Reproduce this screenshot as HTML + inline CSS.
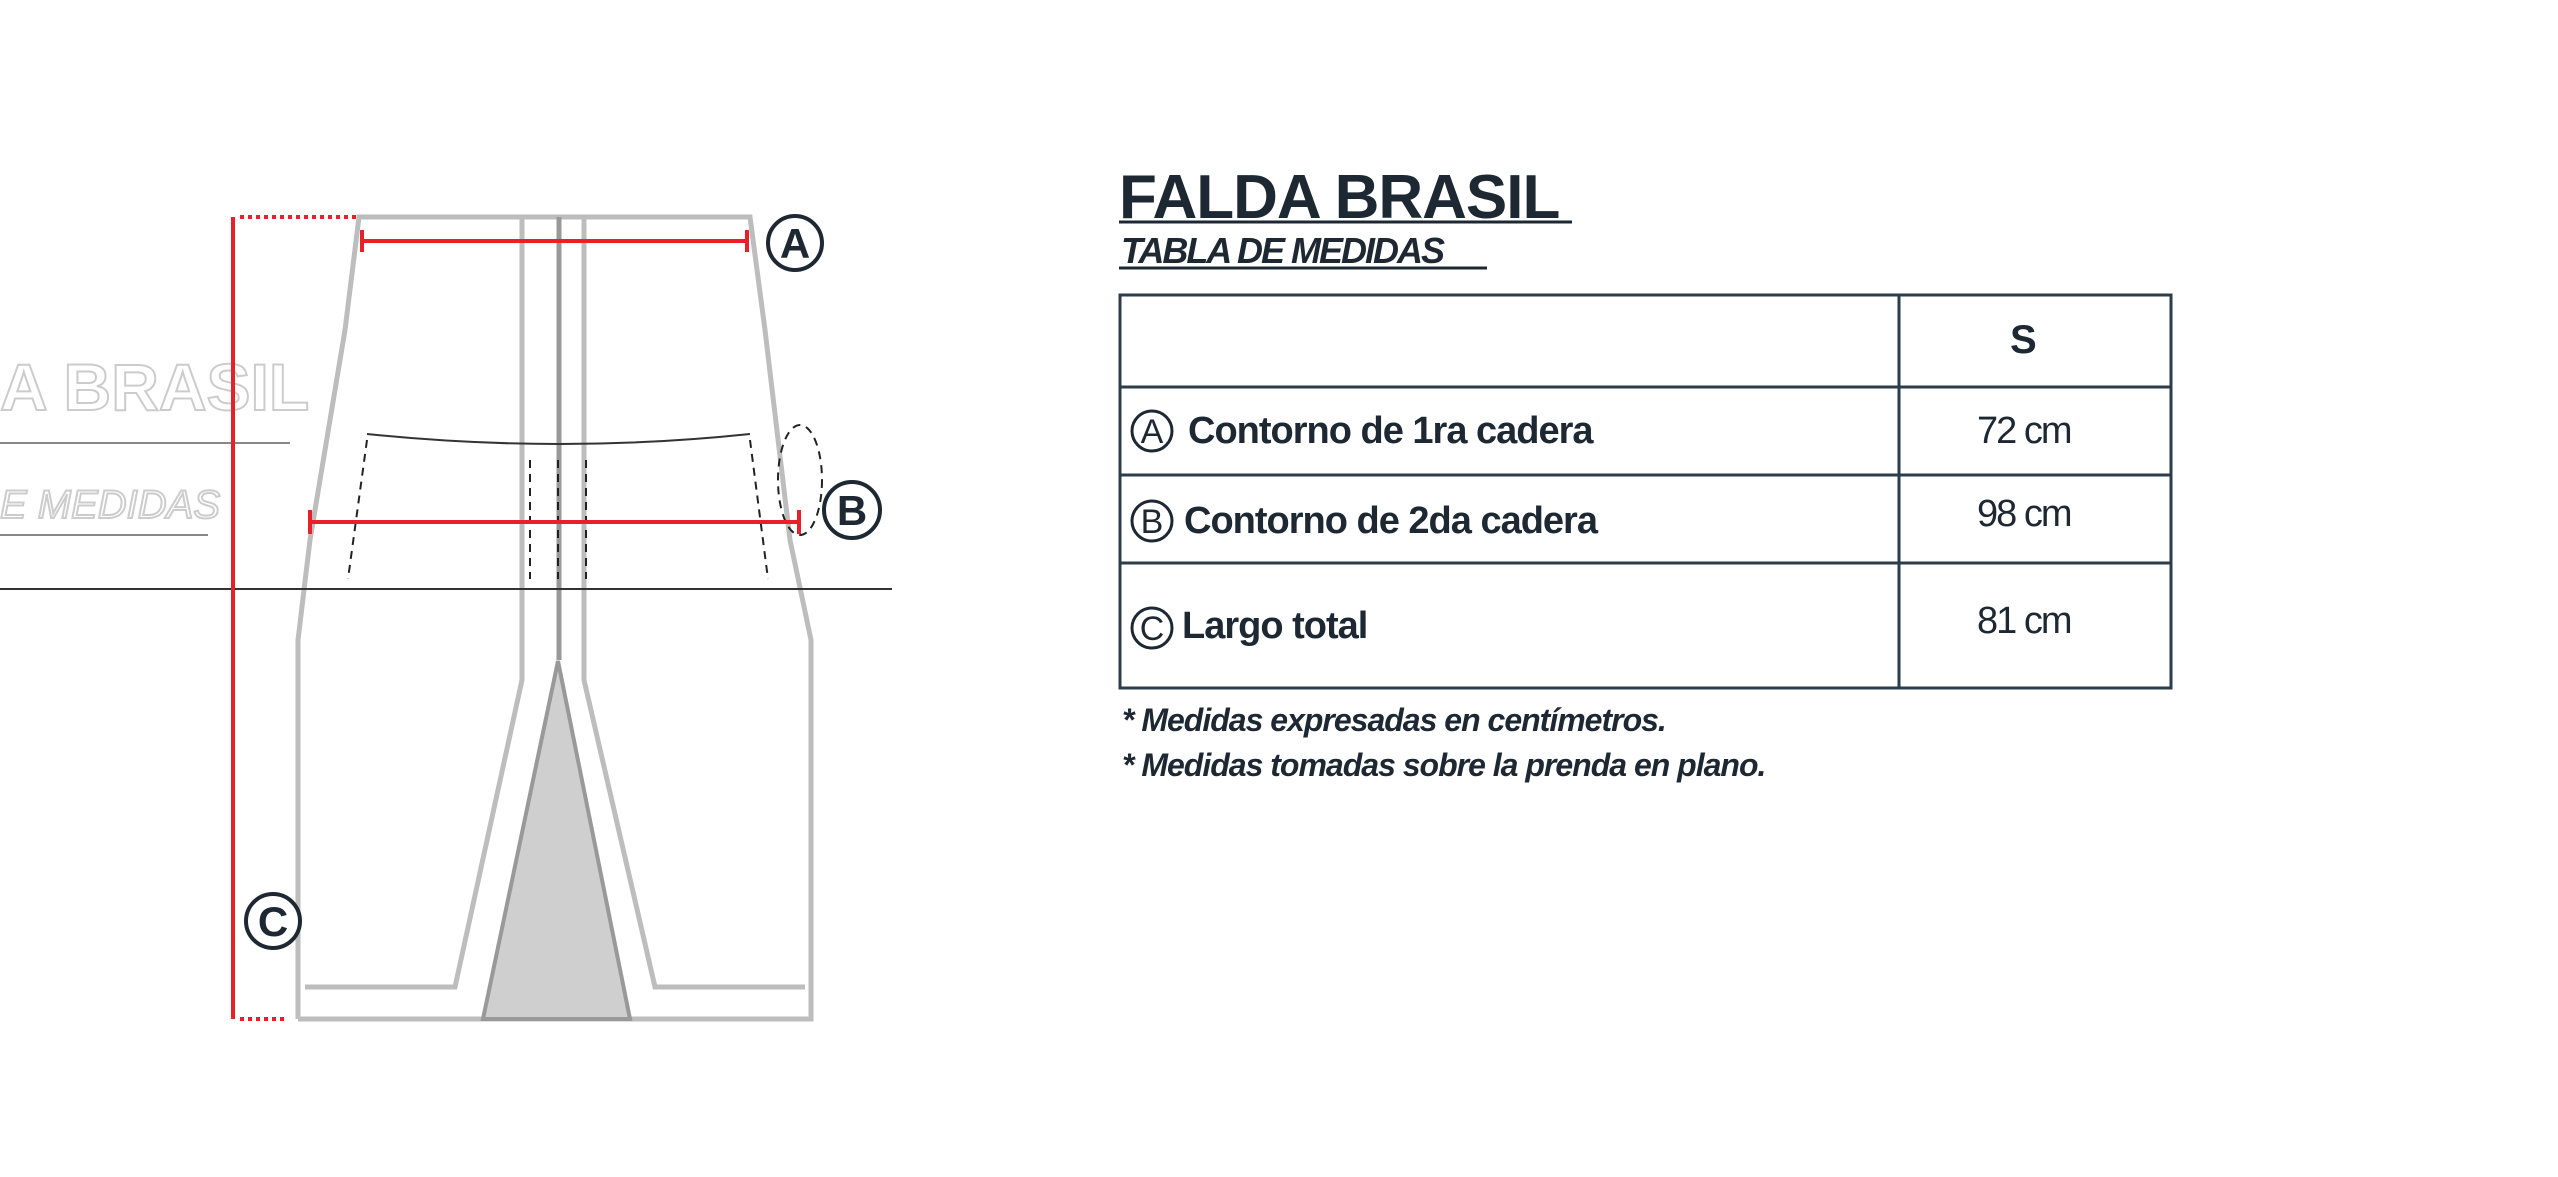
<!DOCTYPE html>
<html><head><meta charset="utf-8"><style>
body{margin:0;width:2558px;height:1177px;background:#fff;overflow:hidden;position:relative;font-family:"Liberation Sans",sans-serif}
.t{position:absolute;white-space:nowrap;color:#1d2833;font-weight:bold}
</style></head><body>
<svg width="2558" height="1177" style="position:absolute;left:0;top:0">
<g fill="none" stroke="#bdbdbd" stroke-width="5">
<polyline points="298,1019 298,640 310,540 345,330 359,217 750,217 765,330 790,540 811,640 811,1019 298,1019"/>
<line x1="522" y1="217" x2="522" y2="640"/><line x1="584" y1="217" x2="584" y2="640"/>
<polyline points="522,640 522,680 455,987 305,987"/>
<polyline points="584,640 584,680 655,987 805,987"/>
</g>
<line x1="559" y1="217" x2="559" y2="660" stroke="#999" stroke-width="5"/>
<polygon points="558,661 483,1019 630,1019" fill="#cfcfcf" stroke="#999" stroke-width="4"/>
<text x="0" y="410" font-size="66" font-family="Liberation Sans" font-weight="bold" fill="none" stroke="#ccc" stroke-width="2">A BRASIL</text>
<line x1="0" y1="443" x2="290" y2="443" stroke="#888" stroke-width="2"/>
<text x="0" y="518" font-size="40" font-style="italic" font-family="Liberation Sans" fill="none" stroke="#ccc" stroke-width="2">E MEDIDAS</text>
<line x1="0" y1="535" x2="208" y2="535" stroke="#888" stroke-width="2"/>
<path d="M367,434 Q560,454 750,434" fill="none" stroke="#333" stroke-width="2"/>
<g stroke="#222" stroke-width="2" stroke-dasharray="8,6">
<line x1="367" y1="440" x2="348" y2="579"/><line x1="750" y1="440" x2="768" y2="579"/>
<line x1="530" y1="460" x2="530" y2="579"/><line x1="558" y1="460" x2="558" y2="579"/><line x1="586" y1="460" x2="586" y2="579"/>
<ellipse cx="800" cy="480" rx="22" ry="55" fill="none"/>
</g>
<line x1="0" y1="589" x2="892" y2="589" stroke="#333" stroke-width="2"/>
<line x1="233" y1="217" x2="233" y2="1019" stroke="#e8202a" stroke-width="4"/>
<line x1="240" y1="217" x2="356" y2="217" stroke="#e8202a" stroke-width="4" stroke-dasharray="4,4"/>
<line x1="240" y1="1019" x2="285" y2="1019" stroke="#e8202a" stroke-width="4" stroke-dasharray="4,4"/>
<g stroke="#e8202a" stroke-width="4"><line x1="362" y1="241" x2="747" y2="241"/><line x1="362" y1="230" x2="362" y2="252"/><line x1="747" y1="230" x2="747" y2="252"/>
<line x1="310" y1="522" x2="799" y2="522"/><line x1="310" y1="510" x2="310" y2="534"/><line x1="799" y1="510" x2="799" y2="534"/></g>
<g fill="#fff" stroke="#1d2833" stroke-width="4" font-family="Liberation Sans" font-weight="bold" font-size="42" text-anchor="middle">
<circle cx="795" cy="243" r="27"/><circle cx="852" cy="510" r="28"/><circle cx="273" cy="921" r="27"/>
<g fill="#1d2833" stroke="none"><text x="795" y="258">A</text><text x="852" y="525">B</text><text x="273" y="936">C</text></g>
</g>
<g stroke="#2a3d48" stroke-width="3" fill="none">
<rect x="1120" y="295" width="1051" height="393"/>
<line x1="1899" y1="295" x2="1899" y2="688"/>
<line x1="1120" y1="387" x2="2171" y2="387"/><line x1="1120" y1="475" x2="2171" y2="475"/><line x1="1120" y1="563" x2="2171" y2="563"/>
</g>
<line x1="1119" y1="222" x2="1572" y2="222" stroke="#1d2833" stroke-width="3"/>
<line x1="1119" y1="268" x2="1487" y2="268" stroke="#1d2833" stroke-width="3"/>
<g fill="#fff" stroke="#1d2833" stroke-width="3"><circle cx="1152" cy="431" r="20"/><circle cx="1152" cy="521" r="20"/><circle cx="1152" cy="628" r="20"/></g>
<g fill="#1d2833" font-family="Liberation Sans" font-size="34" text-anchor="middle"><text x="1152" y="443">A</text><text x="1152" y="533">B</text><text x="1152" y="640">C</text></g>
</svg>
<div class="t" style="left:1119px;top:162px;font-size:62px;letter-spacing:-1px">FALDA BRASIL</div>
<div class="t" style="left:1121px;top:230px;font-size:36px;font-style:italic;letter-spacing:-2px">TABLA DE MEDIDAS</div>
<div class="t" style="left:2010px;top:318px;font-size:40px">S</div>
<div class="t" style="left:1188px;top:410px;font-size:38px;letter-spacing:-1px">Contorno de 1ra cadera</div>
<div class="t" style="left:1184px;top:500px;font-size:38px;letter-spacing:-1px">Contorno de 2da cadera</div>
<div class="t" style="left:1182px;top:605px;font-size:38px;letter-spacing:-1px">Largo total</div>
<div class="t" style="left:1977px;top:410px;font-size:38px;font-weight:normal;letter-spacing:-2px">72 cm</div>
<div class="t" style="left:1977px;top:493px;font-size:38px;font-weight:normal;letter-spacing:-2px">98 cm</div>
<div class="t" style="left:1977px;top:600px;font-size:38px;font-weight:normal;letter-spacing:-2px">81 cm</div>
<div class="t" style="left:1122px;top:702px;font-size:32px;font-style:italic;letter-spacing:-1px">* Medidas expresadas en centímetros.</div>
<div class="t" style="left:1122px;top:747px;font-size:32px;font-style:italic;letter-spacing:-1px">* Medidas tomadas sobre la prenda en plano.</div>
</body></html>
